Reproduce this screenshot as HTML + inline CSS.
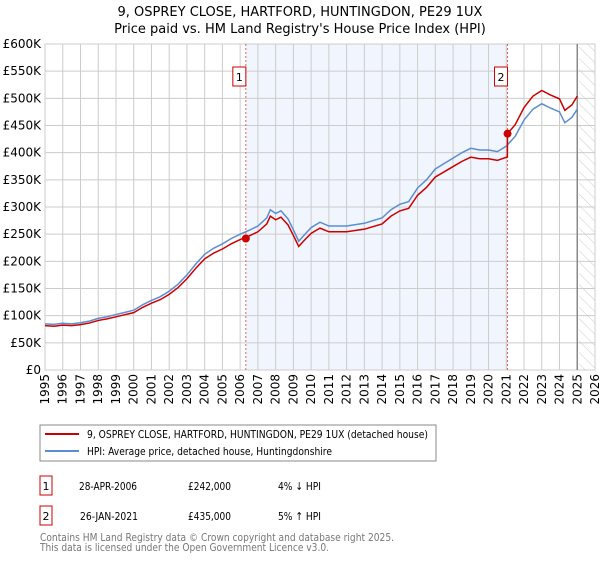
<!DOCTYPE html>
<html><head><meta charset="utf-8"><style>
body{margin:0;background:#fff;font-family:"DejaVu Sans","Liberation Sans",sans-serif;}
svg text{font-family:"DejaVu Sans","Liberation Sans",sans-serif;}
</style></head><body>
<svg id="c" width="600" height="560" xmlns="http://www.w3.org/2000/svg">
<defs><pattern id="hatch" width="8" height="8" patternUnits="userSpaceOnUse" patternTransform="rotate(-45)"><line x1="0" y1="0" x2="0" y2="8" stroke="#ccc" stroke-width="1"/></pattern></defs>
<text x="300" y="16" text-anchor="middle" font-size="13">9, OSPREY CLOSE, HARTFORD, HUNTINGDON, PE29 1UX</text>
<text x="300" y="33" text-anchor="middle" font-size="13">Price paid vs. HM Land Registry's House Price Index (HPI)</text>
<g id="plot"></g>
<rect x="40" y="425" width="396" height="36" fill="#fff" stroke="#888"/>
<line x1="45" y1="434" x2="79" y2="434" stroke="#cc0000" stroke-width="2"/>
<text x="87" y="438" font-size="11" textLength="341" lengthAdjust="spacingAndGlyphs">9, OSPREY CLOSE, HARTFORD, HUNTINGDON, PE29 1UX (detached house)</text>
<line x1="45" y1="451" x2="79" y2="451" stroke="#5b8dd0" stroke-width="2"/>
<text x="87" y="455" font-size="11" textLength="245" lengthAdjust="spacingAndGlyphs">HPI: Average price, detached house, Huntingdonshire</text>
<g font-size="11">
<rect x="40" y="476" width="12" height="19" fill="#fff" stroke="#cc0000"/>
<text x="46" y="490" text-anchor="middle">1</text>
<text x="79" y="490" textLength="58" lengthAdjust="spacingAndGlyphs">28-APR-2006</text>
<text x="188" y="490" textLength="43" lengthAdjust="spacingAndGlyphs">£242,000</text>
<text x="278" y="490" textLength="43" lengthAdjust="spacingAndGlyphs">4% ↓ HPI</text>
<rect x="40" y="506" width="12" height="19" fill="#fff" stroke="#cc0000"/>
<text x="46" y="520" text-anchor="middle">2</text>
<text x="80" y="520" textLength="58" lengthAdjust="spacingAndGlyphs">26-JAN-2021</text>
<text x="188" y="520" textLength="43" lengthAdjust="spacingAndGlyphs">£435,000</text>
<text x="278" y="520" textLength="43" lengthAdjust="spacingAndGlyphs">5% ↑ HPI</text>
</g>
<text x="40" y="541" font-size="11" fill="#777" textLength="354" lengthAdjust="spacingAndGlyphs">Contains HM Land Registry data © Crown copyright and database right 2025.</text>
<text x="40" y="551" font-size="11" fill="#777" textLength="289" lengthAdjust="spacingAndGlyphs">This data is licensed under the Open Government Licence v3.0.</text>
</svg>
<script>
const hpiDates=[1995,1995.5,1996,1996.5,1997,1997.5,1998,1998.5,1999,1999.5,2000,2000.5,2001,2001.5,2002,2002.5,2003,2003.5,2004,2004.5,2005,2005.5,2006,2006.5,2007,2007.5,2007.7,2008,2008.3,2008.7,2009,2009.3,2009.6,2010,2010.5,2011,2012,2013,2014,2014.5,2015,2015.5,2016,2016.5,2017,2017.5,2018,2018.5,2019,2019.5,2020,2020.5,2021,2021.5,2022,2022.5,2023,2023.5,2024,2024.3,2024.7,2025];
const hpiValues=[85,84,86,85,87,90,95,98,102,106,110,120,128,135,145,158,175,195,213,224,232,242,250,257,265,280,295,288,293,278,258,237,248,262,272,265,265,270,280,295,305,310,335,350,370,380,390,400,408,405,405,402,412,430,460,480,490,482,475,455,465,480];
const redDates=[1995,1995.5,1996,1996.5,1997,1997.5,1998,1998.5,1999,1999.5,2000,2000.5,2001,2001.5,2002,2002.5,2003,2003.5,2004,2004.5,2005,2005.5,2006,2006.5,2007,2007.5,2007.7,2008,2008.3,2008.7,2009,2009.3,2009.6,2010,2010.5,2011,2012,2013,2014,2014.5,2015,2015.5,2016,2016.5,2017,2017.5,2018,2018.5,2019,2019.5,2020,2020.5,2021.06,2021.07,2021.5,2022,2022.5,2023,2023.5,2024,2024.3,2024.7,2025];
const redValues=[81.6,80.6,82.6,81.6,83.5,86.4,91.2,94.1,97.9,101.8,105.6,115.2,122.9,129.6,139.2,151.7,168,187.2,204.5,215,222.7,232.3,240,246.7,254.4,268.8,283.2,276.5,281.3,266.9,247.7,227.5,238.1,251.5,261.1,254.4,254.4,259.2,268.8,283.2,292.8,297.6,321.6,336,355.2,364.8,374.4,384,391.7,388.8,388.8,385.9,392,435,451.5,483,504,514.5,506,499,478,488,504];
const saleDates=[2006.32,2021.07];
const saleValues=[242,435];
const saleLabels=["1","2"];
const yTicks=[0,50,100,150,200,250,300,350,400,450,500,550,600];
const yTickLabels=["£0","£50K","£100K","£150K","£200K","£250K","£300K","£350K","£400K","£450K","£500K","£550K","£600K"];
const xTicks=[1995,1996,1997,1998,1999,2000,2001,2002,2003,2004,2005,2006,2007,2008,2009,2010,2011,2012,2013,2014,2015,2016,2017,2018,2019,2020,2021,2022,2023,2024,2025,2026];
const X0=45,X1=595,Y0=370,Y1=44,XMIN=1995,XMAX=2026,YMAX=600;
function sx(d){return X0+(d-XMIN)/(XMAX-XMIN)*(X1-X0);}
function sy(v){return Y0-v/YMAX*(Y0-Y1);}
const NS="http://www.w3.org/2000/svg";
const g=document.getElementById('plot');
function mk(t,a){const e=document.createElementNS(NS,t);for(const k in a)e.setAttribute(k,a[k]);g.appendChild(e);return e;}
let e;
e=mk('rect',{x:sx(saleDates[0]),y:Y1,width:sx(saleDates[1])-sx(saleDates[0]),height:Y0-Y1,fill:'#eef3fc',opacity:0.8});


e=mk('rect',{x:sx(2025.1),y:Y1,width:X1-sx(2025.1),height:Y0-Y1,fill:'url(#hatch)'});


yTicks.forEach((v,i)=>{
 e=mk('line',{x1:X0,x2:X1,y1:sy(v),y2:sy(v),stroke:'#ccc','stroke-width':1});
 
 
 e=mk('text',{x:41,y:sy(v)+4,'text-anchor':'end','font-size':12});
 e.textContent=yTickLabels[i];
 
 
});
xTicks.forEach(d=>{
 e=mk('line',{x1:sx(d),x2:sx(d),y1:Y1,y2:Y0,stroke:'#ccc','stroke-width':1});
 
 
 e=mk('text',{x:0,y:0,'text-anchor':'end','font-size':12,transform:`translate(${sx(d)+4},374) rotate(-90)`});
 e.textContent=d;
 
 
});
e=mk('rect',{x:X0,y:Y1,width:X1-X0,height:Y0-Y1,fill:'none',stroke:'#ccc'});


e=mk('line',{x1:sx(2025.0),x2:sx(2025.0),y1:Y1,y2:Y0,stroke:'#888','stroke-width':1.5});


saleDates.forEach((d,i)=>{
 e=mk('line',{x1:sx(d),x2:sx(d),y1:Y1,y2:Y0,stroke:'#e06060','stroke-width':1,'stroke-dasharray':'2,2'});
 
 
});
e=mk('polyline',{points:hpiDates.map((d,i)=>sx(d)+','+sy(hpiValues[i])).join(' '),fill:'none',stroke:'#5b8dd0','stroke-width':1.5});


e=mk('polyline',{points:redDates.map((d,i)=>sx(d)+','+sy(redValues[i])).join(' '),fill:'none',stroke:'#cc0000','stroke-width':1.5});


saleDates.forEach((d,i)=>{
 e=mk('circle',{cx:sx(d),cy:sy(saleValues[i]),r:4,fill:'#cc0000'});
 
 
 e=mk('rect',{x:sx(d)-13,y:67,width:13,height:19,fill:'#fff',stroke:'#cc0000'});
 
 
 e=mk('text',{x:sx(d)-6.5,y:81,'text-anchor':'middle','font-size':11});
 e.textContent=saleLabels[i];
 
 
});
</script>
</body></html>
